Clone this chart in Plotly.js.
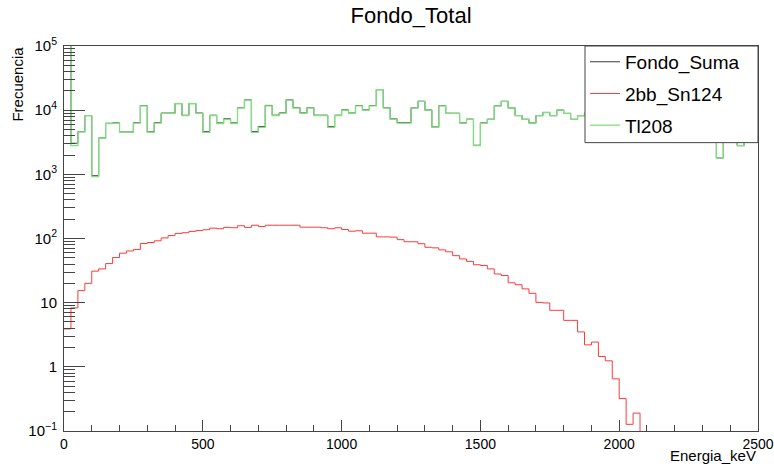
<!DOCTYPE html>
<html>
<head>
<meta charset="utf-8">
<script src="https://cdn.plot.ly/plotly-3.0.1.min.js"></script>
<style>html,body{margin:0;padding:0;background:#fff;}#chart{width:774px;height:468px;}</style>
</head>
<body>
<div id="chart"></div>
<script>
// Histogram binning: 100 bins of 25 keV from 0 to 2500 keV
const binMin = 0;
const binMax = 2500;
const nBins = 100;

// Fondo_Suma (sum of backgrounds), counts per bin
const fondoSuma = [
  130004, 3050, 4615, 8220, 951, 3684, 6241, 6351, 4559, 4564,
  6367, 11784, 4587, 6392, 9002, 9011, 12720, 8323, 12729, 9033,
  4637, 8345, 6342, 7349, 6347, 10958, 14449, 4661, 5554, 11861,
  8361, 9061, 14461, 10961, 9050, 10950, 8350, 8347, 5542, 8347,
  10138, 9030, 11832, 10121, 11821, 20906, 10906, 7305, 6396, 6389,
  10889, 13783, 10073, 5472, 11767, 8962, 8954, 6348, 7244, 2839,
  6338, 7234, 11728, 13727, 10820, 8219, 7216, 6314, 8210, 9210,
  8208, 10008, 8905, 7205, 8204, 9002, 7502, 10501, 8201, 6801,
  9600, 11200, 7800, 8600, 6500, 9900, 8300, 7400, 10200, 8800,
  6900, 9400, 7700, 8500, 1800, 7900, 8700, 2800, 7300, 9100
];

// 2bb_Sn124, counts per bin
const sn124 = [
  3.9, 8.3, 15.4, 20, 31, 33.6, 40.7, 50.5, 59, 64,
  67.3, 83.5, 86.6, 92, 102, 111, 120, 123, 129, 133,
  137, 145, 142, 149, 147, 158, 149, 161, 154, 161,
  161, 161, 161, 161, 150, 150, 150, 147, 142, 147,
  138, 130, 132, 121, 121, 106, 106, 105, 96, 89,
  89, 83, 73, 71.5, 66.5, 62, 54, 48, 44, 39,
  38, 33.6, 28, 26.5, 20.4, 19, 16.4, 14, 10.1, 9.9,
  7.6, 7.6, 5.3, 5.3, 3.5, 2.2, 2.43, 1.45, 1.24, 0.65,
  0.32, 0.127, 0.19, 0, 0, 0, 0, 0, 0, 0,
  0, 0, 0, 0, 0, 0, 0, 0, 0, 0
];

// Tl208, counts per bin
const tl208 = [
  130000, 2800, 4600, 8200, 920, 3650, 6200, 6300, 4500, 4500,
  6300, 11700, 4500, 6300, 8900, 8900, 12600, 8200, 12600, 8900,
  4500, 8200, 6200, 7200, 6200, 10800, 14300, 4500, 5400, 11700,
  8200, 8900, 14300, 10800, 8900, 10800, 8200, 8200, 5400, 8200,
  10000, 8900, 11700, 10000, 11700, 20800, 10800, 7200, 6300, 6300,
  10800, 13700, 10000, 5400, 11700, 8900, 8900, 6300, 7200, 2800,
  6300, 7200, 11700, 13700, 10800, 8200, 7200, 6300, 8200, 9200,
  8200, 10000, 8900, 7200, 8200, 9000, 7500, 10500, 8200, 6800,
  9600, 11200, 7800, 8600, 6500, 9900, 8300, 7400, 10200, 8800,
  6900, 9400, 7700, 8500, 1800, 7900, 8700, 2800, 7300, 9100
];

const seriesNames = ['Fondo_Suma', '2bb_Sn124', 'Tl208'];
const seriesColors = ['#3a3a3a', '#ff3a3a', '#80e080'];
const seriesWidths = [1, 1, 1.3];

const xTickVals = [0, 500, 1000, 1500, 2000, 2500];
const xTickText = ['0', '500', '1000', '1500', '2000', '2500'];
const yTickVals = [0.1, 1, 10, 100, 1000, 10000, 100000];
const yTickText = ['10<sup>\u22121</sup>', '1', '10', '10<sup>2</sup>', '10<sup>3</sup>', '10<sup>4</sup>', '10<sup>5</sup>'];

// ROOT draws empty bins at the bottom of a log axis: put them below the visible range
const emptyFloor = 1e-3;
const binWidth = (binMax - binMin) / nBins;
const edges = [];
for (let i = 0; i <= nBins; i++) edges.push(binMin + i * binWidth);

function stepTrace(values, name, color, width) {
  const ys = values.map(v => (v > 0 ? v : emptyFloor));
  ys.push(ys[ys.length - 1]);
  return {
    type: 'scatter', mode: 'lines', name: name,
    x: edges, y: ys,
    line: {shape: 'hv', color: color, width: width},
    legendgroup: name, hoverinfo: 'skip'
  };
}

const traces = seriesNames.map((n, k) =>
  stepTrace([fondoSuma, sn124, tl208][k], n, seriesColors[k], seriesWidths[k]));

const yMinor = [];
for (let d = -1; d <= 4; d++) for (let k = 2; k <= 9; k++) yMinor.push(k * Math.pow(10, d));

const font = 'Liberation Sans, Arial, Helvetica, sans-serif';
const axisColor = '#444';
const layout = {
  width: 774, height: 468,
  margin: {l: 64, r: 16, t: 46, b: 37, pad: 0},
  paper_bgcolor: '#fff', plot_bgcolor: '#fff',
  font: {family: font, color: '#000', size: 14},
  title: {text: 'Fondo_Total', font: {family: font, size: 22, color: '#000'},
          x: 0.5, xref: 'paper', xanchor: 'center', y: 1 - 15 / 468, yref: 'container', yanchor: 'middle'},
  showlegend: true,
  legend: {x: 0.7507, xanchor: 'left', y: 1.008, yanchor: 'top', bgcolor: 'rgba(0,0,0,0)',
           borderwidth: 0, font: {family: font, size: 19, color: '#000'},
           traceorder: 'grouped', tracegroupgap: 4, itemwidth: 30},
  shapes: [
    {type: 'rect', xref: 'paper', yref: 'paper', x0: 0.7507, x1: 1, y0: 0.749, y1: 1,
     fillcolor: '#fff', line: {color: axisColor, width: 1}, layer: 'above'}
  ],
  xaxis: {range: [binMin, binMax], showgrid: false, zeroline: false,
          showline: true, linecolor: axisColor, linewidth: 1, mirror: true,
          ticks: 'inside', ticklen: 11, tickcolor: axisColor, tickwidth: 1,
          tickmode: 'array', tickvals: xTickVals, ticktext: xTickText,
          tickfont: {size: 14},
          minor: {ticks: 'inside', ticklen: 6, dtick: 100, tick0: 0, tickcolor: axisColor, showgrid: false}},
  yaxis: {type: 'log', range: [-1, 5], showgrid: false, zeroline: false,
          showline: true, linecolor: axisColor, linewidth: 1, mirror: true,
          ticks: 'inside', ticklen: 21, tickcolor: axisColor, tickwidth: 1,
          tickmode: 'array', tickvals: yTickVals, ticktext: yTickText,
          tickfont: {size: 15}, ticklabelstandoff: 3,
          minor: {ticks: 'inside', ticklen: 11, tickmode: 'array', tickvals: yMinor, tickcolor: axisColor, showgrid: false}},
  annotations: [
    {text: 'Energia_keV', xref: 'paper', yref: 'paper', x: 1, y: -0.063,
     xanchor: 'right', yanchor: 'middle', showarrow: false, font: {family: font, size: 15, color: '#000'}},
    {text: 'Frecuencia', xref: 'paper', yref: 'paper', x: -0.067, y: 0.901, textangle: -90,
     xanchor: 'center', yanchor: 'middle', showarrow: false, font: {family: font, size: 15, color: '#000'}}
  ]
};

Plotly.newPlot('chart', traces, layout, {staticPlot: true, displayModeBar: false});
</script>
</body>
</html>
